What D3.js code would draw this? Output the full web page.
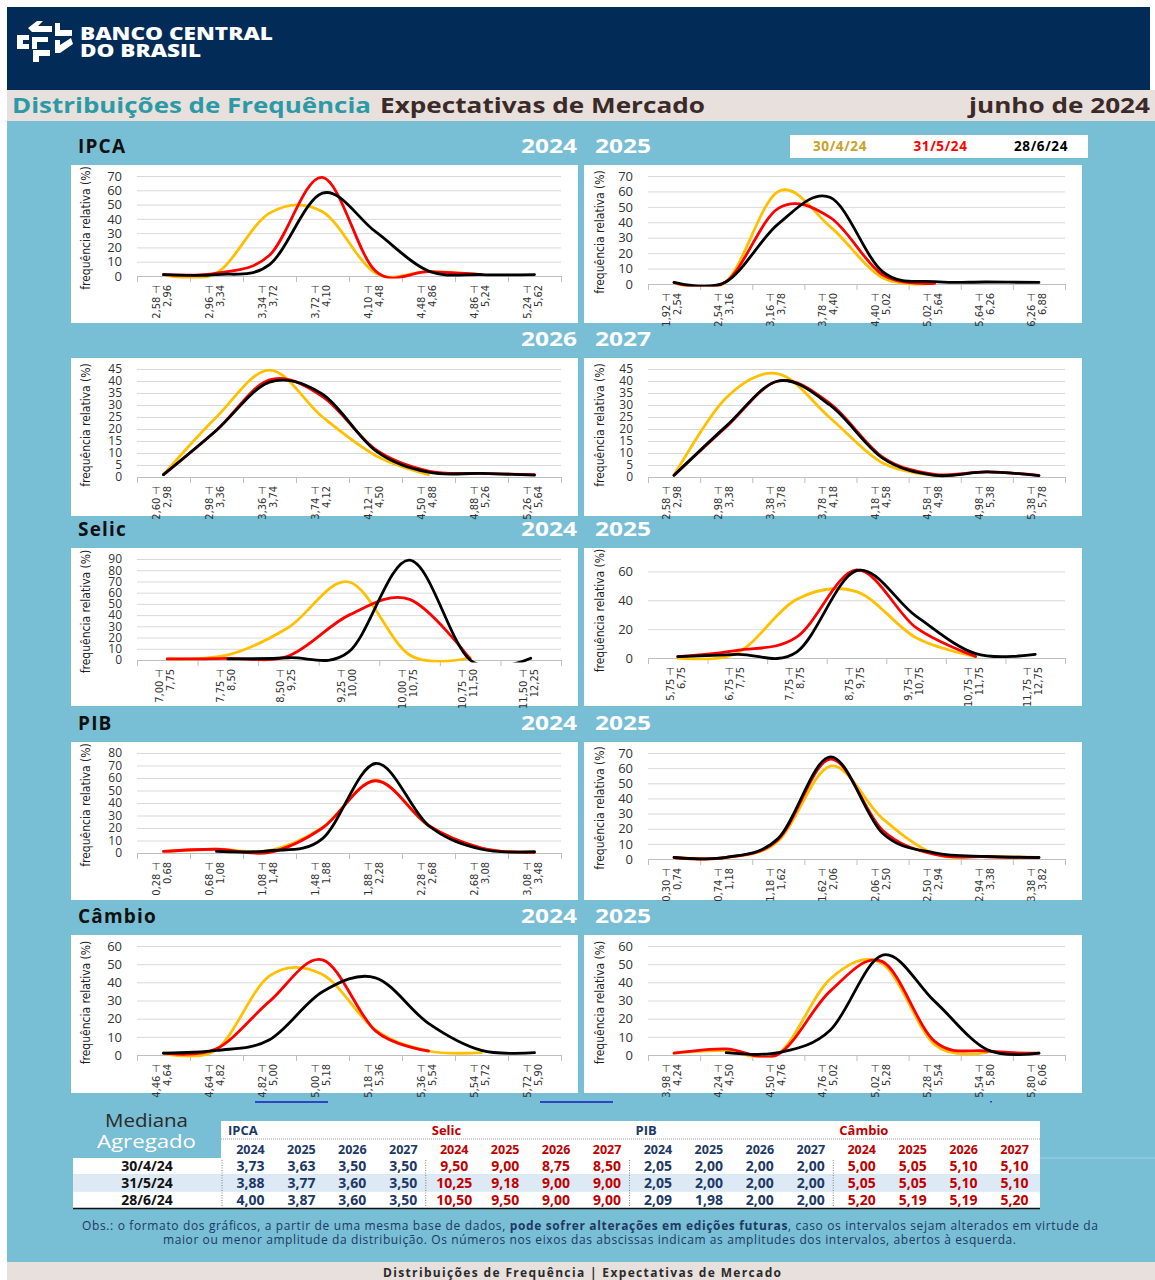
<!DOCTYPE html>
<html>
<head>
<meta charset="utf-8">
<script src="https://cdnjs.cloudflare.com/ajax/libs/d3/7.8.5/d3.min.js"></script>
<style>
  body { margin: 0; background: #fff; }
  svg text { font-family: "Open Sans", "Noto Sans", sans-serif; }
  .narrow { font-family: "Liberation Sans Narrow", "DejaVu Sans Condensed", sans-serif !important; }
</style>
</head>
<body>
<div id="page"></div>
<script>
// survey dates and line colours
var seriesDates = ["30/4/24", "31/5/24", "28/6/24"];
var seriesColors = ["#ffc000", "#ff0000", "#000000"];
var legendColors = ["#c9a227", "#ff0000", "#000000"];

// tick labels
var ticks70 = [0, 10, 20, 30, 40, 50, 60, 70];
var ticks45 = [0, 5, 10, 15, 20, 25, 30, 35, 40, 45];
var ticks90 = [0, 10, 20, 30, 40, 50, 60, 70, 80, 90];
var ticks80 = [0, 10, 20, 30, 40, 50, 60, 70, 80];
var ticks60by20 = [0, 20, 40, 60];
var ticks60 = [0, 10, 20, 30, 40, 50, 60];

// IPCA
var ipca24Edges = ["2,58", "2,96", "3,34", "3,72", "4,10", "4,48", "4,86", "5,24", "5,62"];
var ipca24Apr = [1, 2, 44, 45, 2, 3, 1, null];
var ipca24May = [1, 2, 14.5, 69, 3.5, 3, 1, null];
var ipca24Jun = [1, 1, 8, 58, 31, 3.5, 1, 1];

var ipca25Edges = ["1,92", "2,54", "3,16", "3,78", "4,40", "5,02", "5,64", "6,26", "6,88"];
var ipca25Apr = [1, 1.5, 60, 37, 4, 0.5, null, null];
var ipca25May = [1, 1.5, 49, 43, 6, 0.5, null, null];
var ipca25Jun = [1, 1.5, 39, 56, 8, 1.5, 1.3, 1];

var ipca26Edges = ["2,60", "2,98", "3,36", "3,74", "4,12", "4,50", "4,88", "5,26", "5,64"];
var ipca26Apr = [1, 25, 44.5, 25, 9, 1, null, null];
var ipca26May = [1, 19.5, 40.5, 33.5, 11.5, 2.5, 1.5, 1];
var ipca26Jun = [1, 19.5, 39.5, 34.5, 11, 2, 1.5, 0.8];

var ipca27Edges = ["2,58", "2,98", "3,38", "3,78", "4,18", "4,58", "4,98", "5,38", "5,78"];
var ipca27Apr = [0.7, 33, 43, 24.5, 5.8, 0.7, null, null];
var ipca27May = [0.7, 20.8, 40, 30.5, 8.3, 1.1, 2.1, 0.7];
var ipca27Jun = [0.7, 21.2, 40, 29.8, 7.9, 0.7, 2.1, 0.6];

// Selic
var selic24Edges = ["7,00", "7,75", "8,50", "9,25", "10,00", "10,75", "11,50", "12,25"];
var selic24Apr = [1, 4.5, 29, 69.5, 4.5, 2, null];
var selic24May = [1, 1.5, 3.6, 40, 54, 1, null];
var selic24Jun = [null, 1, 2, 7.4, 89, 0, 1.5];

var selic25Edges = ["5,75", "6,75", "7,75", "8,75", "9,75", "10,75", "11,75", "12,75"];
var selic25Apr = [0, 3.5, 40.7, 46, 14, 1, null];
var selic25May = [1, 5.3, 14.6, 61, 21, 1, null];
var selic25Jun = [1, 2.5, 4.3, 60.5, 29, 3, 2.5];

// PIB
var pib24Edges = ["0,28", "0,68", "1,08", "1,48", "1,88", "2,28", "2,68", "3,08", "3,48"];
var pib24Apr = [1.3, 3, 2, 20.5, 58, 22, 4, 0.5];
var pib24May = [1.3, 3, 0.5, 20, 57.8, 22, 4, 0.5];
var pib24Jun = [null, 1.3, 1.8, 11.5, 71.6, 22, 3, 1];

var pib25Edges = ["0,30", "0,74", "1,18", "1,62", "2,06", "2,50", "2,94", "3,38", "3,82"];
var pib25Apr = [1, 1, 12, 61.4, 26.7, 3.3, 1.7, 1];
var pib25May = [1, 1, 13, 66, 19, 3, 1.5, 1];
var pib25Jun = [1, 1, 13.7, 67.5, 17, 4, 1.7, 1];

// Câmbio
var cambio24Edges = ["4,46", "4,64", "4,82", "5,00", "5,18", "5,36", "5,54", "5,72", "5,90"];
var cambio24Apr = [1, 3, 43.5, 44.3, 13.8, 2.2, 1.3, null];
var cambio24May = [1, 3.4, 29.5, 52.4, 13.3, 2.2, null, null];
var cambio24Jun = [1, 2.5, 8.4, 34.8, 42.5, 17.4, 2.5, 1.3];

var cambio25Edges = ["3,98", "4,24", "4,50", "4,76", "5,02", "5,28", "5,54", "5,80", "6,06"];
var cambio25Apr = [1, 2.5, 0.7, 42, 50.2, 5.7, 1.4, null];
var cambio25May = [1, 3.4, 0.4, 35.3, 51.4, 7.5, 2.2, 1];
var cambio25Jun = [null, 1.3, 1.3, 13.8, 55, 29.5, 3, 1];

// median table
var groupNames = ["IPCA", "Selic", "PIB", "Câmbio"];
var medianYears = ["2024", "2025", "2026", "2027"];
var ipcaMedian = [[3.73, 3.63, 3.50, 3.50], [3.88, 3.77, 3.60, 3.50], [4.00, 3.87, 3.60, 3.50]];
var selicMedian = [[9.50, 9.00, 8.75, 8.50], [10.25, 9.18, 9.00, 9.00], [10.50, 9.50, 9.00, 9.00]];
var pibMedian = [[2.05, 2.00, 2.00, 2.00], [2.05, 2.00, 2.00, 2.00], [2.09, 1.98, 2.00, 2.00]];
var cambioMedian = [[5.00, 5.05, 5.10, 5.10], [5.05, 5.05, 5.10, 5.10], [5.20, 5.19, 5.19, 5.20]];

var navy = "#203864", darkRed = "#c00000";

var svg = d3.select("#page").append("svg")
  .attr("width", 1155)
  .attr("height", 1280);

// page blocks
svg.append("rect").attr("x", 7).attr("y", 7).attr("width", 1143).attr("height", 83).attr("fill", "#022c57");
svg.append("rect").attr("x", 7).attr("y", 90).attr("width", 1148).attr("height", 31).attr("fill", "#e8e0dd");
svg.append("rect").attr("x", 7).attr("y", 121).attr("width", 1148).attr("height", 1141).attr("fill", "#78bed5");
svg.append("rect").attr("x", 7).attr("y", 1262).attr("width", 1148).attr("height", 18).attr("fill", "#e8e0dd");

// logo
var logo = svg.append("g").attr("fill", "#fff");
[
  "M37,21 L43,21 L38,26 L52,26 L52,32 L32,32 L28,28 Z",
  "M55,23 L60,23 L60,30 L72,30 L72,36 L55,36 Z",
  "M17,35 L29,35 L29,40 L23,40 L23,44 L29,44 L29,49 L17,49 Z",
  "M32,37 L48,37 L48,42 L37,42 L37,49 L32,49 Z",
  "M55,40 L60,40 L60,45 L71,38 L73,44 L60,53 L55,53 Z",
  "M33,50 L50,50 L50,56 L39,56 L39,62 L33,62 Z"
].forEach(function(d) { logo.append("path").attr("d", d); });
svg.append("text").attr("x", 80).attr("y", 40).attr("fill", "#fff")
  .attr("font-size", 17).attr("font-weight", 800).attr("textLength", 193).attr("lengthAdjust", "spacingAndGlyphs")
  .text("BANCO CENTRAL");
svg.append("text").attr("x", 80).attr("y", 57).attr("fill", "#fff")
  .attr("font-size", 17).attr("font-weight", 800).attr("textLength", 121).attr("lengthAdjust", "spacingAndGlyphs")
  .text("DO BRASIL");

// title bar
svg.append("text").attr("x", 12).attr("y", 113).attr("font-size", 21).attr("font-weight", 700)
  .attr("fill", "#2b9aa6").attr("textLength", 359).attr("lengthAdjust", "spacingAndGlyphs")
  .text("Distribuições de Frequência");
svg.append("text").attr("x", 380).attr("y", 113).attr("font-size", 21).attr("font-weight", 700)
  .attr("fill", "#3b2a28").attr("textLength", 325).attr("lengthAdjust", "spacingAndGlyphs")
  .text("Expectativas de Mercado");
svg.append("text").attr("x", 1150).attr("y", 113).attr("font-size", 21).attr("font-weight", 700)
  .attr("fill", "#3b2a28").attr("text-anchor", "end").attr("textLength", 181).attr("lengthAdjust", "spacingAndGlyphs")
  .text("junho de 2024");

// legend
svg.append("rect").attr("x", 790).attr("y", 135).attr("width", 298).attr("height", 23).attr("fill", "#fff");
var legendX = d3.scalePoint().domain(seriesDates).range([840, 1041]);
svg.selectAll(".legend").data(seriesDates).join("text")
  .attr("x", function(d) { return legendX(d); })
  .attr("y", 151)
  .attr("text-anchor", "middle")
  .attr("font-size", 13.5).attr("font-weight", 700).attr("letter-spacing", 0.6)
  .attr("fill", function(d, i) { return legendColors[i]; })
  .text(function(d) { return d; });

// row headings
var rowTops = [165, 358, 548, 742, 935];
var rowTitles = ["IPCA", "", "Selic", "PIB", "Câmbio"];
var rowYears = [["2024", "2025"], ["2026", "2027"], ["2024", "2025"], ["2024", "2025"], ["2024", "2025"]];

rowTops.forEach(function(top, r) {
  svg.append("text").attr("x", 78).attr("y", top - 12).attr("font-size", 19).attr("font-weight", 700)
    .attr("fill", "#111").attr("letter-spacing", 1.2).text(rowTitles[r]);
  svg.append("text").attr("x", 521).attr("y", top - 12).attr("font-size", 19).attr("font-weight", 700)
    .attr("fill", "#fff").attr("textLength", 56).attr("lengthAdjust", "spacingAndGlyphs").text(rowYears[r][0]);
  svg.append("text").attr("x", 595).attr("y", top - 12).attr("font-size", 19).attr("font-weight", 700)
    .attr("fill", "#fff").attr("textLength", 56).attr("lengthAdjust", "spacingAndGlyphs").text(rowYears[r][1]);
});

var panels = [
  { row: 0, col: 0, edges: ipca24Edges, ticks: ticks70, yMax: 70, axisY: 111, series: [ipca24Apr, ipca24May, ipca24Jun] },
  { row: 0, col: 1, edges: ipca25Edges, ticks: ticks70, yMax: 70, axisY: 119, series: [ipca25Apr, ipca25May, ipca25Jun] },
  { row: 1, col: 0, edges: ipca26Edges, ticks: ticks45, yMax: 45, axisY: 119, series: [ipca26Apr, ipca26May, ipca26Jun] },
  { row: 1, col: 1, edges: ipca27Edges, ticks: ticks45, yMax: 45, axisY: 119, series: [ipca27Apr, ipca27May, ipca27Jun] },
  { row: 2, col: 0, edges: selic24Edges, ticks: ticks90, yMax: 90, axisY: 112, series: [selic24Apr, selic24May, selic24Jun] },
  { row: 2, col: 1, edges: selic25Edges, ticks: ticks60by20, yMax: 70, axisY: 110, series: [selic25Apr, selic25May, selic25Jun] },
  { row: 3, col: 0, edges: pib24Edges, ticks: ticks80, yMax: 80, axisY: 111, series: [pib24Apr, pib24May, pib24Jun] },
  { row: 3, col: 1, edges: pib25Edges, ticks: ticks70, yMax: 70, axisY: 117, series: [pib25Apr, pib25May, pib25Jun] },
  { row: 4, col: 0, edges: cambio24Edges, ticks: ticks60, yMax: 60, axisY: 120, series: [cambio24Apr, cambio24May, cambio24Jun] },
  { row: 4, col: 1, edges: cambio25Edges, ticks: ticks60, yMax: 60, axisY: 120, series: [cambio25Apr, cambio25May, cambio25Jun] }
];

panels.forEach(function(p, pi) {
  var px = p.col === 0 ? 71 : 584;
  var pw = p.col === 0 ? 507 : 498;
  var ph = 158;
  var g = svg.append("g").attr("transform", "translate(" + px + "," + rowTops[p.row] + ")");
  g.append("rect").attr("width", pw).attr("height", ph).attr("fill", "#fff");

  var left = p.col === 0 ? 66 : 64, right = pw - 17, top = 11;
  var n = p.edges.length - 1;
  var x = d3.scaleLinear().domain([0, n]).range([left, right]);
  var lastTick = p.ticks[p.ticks.length - 1];
  var y = d3.scaleLinear().domain([0, p.yMax]).range([p.axisY, lastTick === p.yMax ? top : top - 2]);

  // gridlines
  g.append("g").attr("transform", "translate(" + left + ",0)")
    .call(d3.axisLeft(y).tickValues(p.ticks.slice(1)).tickSize(-(right - left)).tickFormat(""))
    .call(function(s) { s.select(".domain").remove(); })
    .selectAll("line").attr("stroke", "#d9d9d9");

  // y labels
  var ya = g.append("g").attr("transform", "translate(" + left + ",0)")
    .call(d3.axisLeft(y).tickValues(p.ticks).tickSize(0).tickPadding(15));
  ya.select(".domain").remove();
  ya.selectAll("text").attr("font-size", p.ticks.length > 8 ? 12 : 13).attr("fill", "#333")
    .attr("font-family", "'Open Sans', sans-serif");

  // y title
  g.append("text").attr("class", "narrow")
    .attr("transform", "translate(" + (p.col === 0 ? 19 : 20) + "," + ((top + p.axisY) / 2 + 2) + ") rotate(-90)")
    .attr("text-anchor", "middle").attr("font-size", 12).attr("fill", "#222")
    .text("frequência relativa (%)");

  // x axis with ticks on bin edges
  var xa = g.append("g").attr("transform", "translate(0," + p.axisY + ")")
    .call(d3.axisBottom(x).tickValues(d3.range(n + 1)).tickSize(6).tickSizeOuter(0).tickFormat(""));
  xa.select(".domain").attr("stroke", "#bfbfbf");
  xa.selectAll("line").attr("stroke", "#bfbfbf");

  // x labels, two lines rotated
  var labels = g.selectAll(".xl").data(d3.range(n)).join("text")
    .attr("class", "narrow")
    .attr("transform", function(i) { return "translate(" + x(i + 0.5) + "," + (p.axisY + 9) + ") rotate(-90)"; })
    .attr("text-anchor", "end").attr("font-size", 11).attr("fill", "#333");
  labels.append("tspan").attr("x", 0).attr("y", -4).text(function(i) { return p.edges[i] + " ⊣"; });
  labels.append("tspan").attr("x", 0).attr("y", 7).text(function(i) { return p.edges[i + 1]; });

  // clip to plot area like a spreadsheet chart
  var clipId = "clip" + pi;
  g.append("clipPath").attr("id", clipId).append("rect")
    .attr("x", left - 4).attr("y", 0).attr("width", right - left + 8).attr("height", p.axisY + 2.5);

  var line = d3.line()
    .defined(function(d) { return d != null; })
    .x(function(d, i) { return x(i + 0.5); })
    .y(function(d) { return y(d); })
    .curve(d3.curveCatmullRom.alpha(0));

  g.append("g").attr("clip-path", "url(#" + clipId + ")")
    .selectAll("path").data(p.series).join("path")
    .attr("d", line)
    .attr("fill", "none")
    .attr("stroke", function(d, i) { return seriesColors[i]; })
    .attr("stroke-width", 2.8)
    .attr("stroke-linejoin", "round")
    .attr("stroke-linecap", "round");
});

// stray blue marks above the table
svg.append("line").attr("x1", 255).attr("x2", 328).attr("y1", 1102).attr("y2", 1102).attr("stroke", "#2a48c4").attr("stroke-width", 2);
svg.append("line").attr("x1", 540).attr("x2", 613).attr("y1", 1102).attr("y2", 1102).attr("stroke", "#2a48c4").attr("stroke-width", 2);
svg.append("rect").attr("x", 990).attr("y", 1101).attr("width", 2).attr("height", 1.5).attr("fill", "#2a48c4");

// median table
svg.append("text").attr("x", 105).attr("y", 1127)
  .attr("font-size", 18).attr("fill", "#2b2b2b").attr("textLength", 83).attr("lengthAdjust", "spacingAndGlyphs")
  .text("Mediana");
svg.append("text").attr("x", 97).attr("y", 1148)
  .attr("font-size", 18).attr("fill", "#fff").attr("textLength", 99).attr("lengthAdjust", "spacingAndGlyphs")
  .text("Agregado");

var medianGroups = [ipcaMedian, selicMedian, pibMedian, cambioMedian];
var groupColors = [navy, darkRed, navy, darkRed];
var gx = d3.scaleBand().domain(d3.range(4)).range([225, 1040]);
var cx = d3.scaleBand().domain(d3.range(4)).range([0, gx.bandwidth()]);
var ry = d3.scaleBand().domain(d3.range(3)).range([1158, 1208]);
var fmt = function(v) { return d3.format(".2f")(v).replace(".", ","); };

svg.append("rect").attr("x", 221).attr("y", 1121).attr("width", 819).attr("height", 37).attr("fill", "#fff");
svg.append("line").attr("x1", 221).attr("x2", 1040).attr("y1", 1139).attr("y2", 1139)
  .attr("stroke", "#9a9a9a").attr("stroke-dasharray", "1,1");
svg.append("line").attr("x1", 1040).attr("x2", 1155).attr("y1", 1158).attr("y2", 1158).attr("stroke", "#9fd0e0");

svg.selectAll(".rowbg").data(seriesDates).join("rect")
  .attr("x", 73).attr("y", function(d, i) { return ry(i); })
  .attr("width", 967).attr("height", ry.bandwidth())
  .attr("fill", function(d, i) { return i === 1 ? "#dde9f4" : "#fff"; });

svg.selectAll(".dates").data(seriesDates).join("text")
  .attr("x", 147).attr("y", function(d, i) { return ry(i) + ry.bandwidth() / 2 + 5; })
  .attr("text-anchor", "middle").attr("font-size", 14).attr("font-weight", 700).attr("fill", "#111")
  .text(function(d) { return d; });

groupNames.forEach(function(name, gi) {
  svg.append("text").attr("x", gx(gi) + 3).attr("y", 1135)
    .attr("font-size", 13).attr("font-weight", 700).attr("fill", groupColors[gi])
    .text(name);
  svg.append("line").attr("x1", gx(gi) - 3).attr("x2", gx(gi) - 3).attr("y1", 1160).attr("y2", 1207)
    .attr("stroke", "#808080").attr("stroke-dasharray", "1,1.5");
  medianYears.forEach(function(yr, k) {
    var colX = gx(gi) + cx(k) + cx.bandwidth() / 2;
    svg.append("text").attr("x", colX).attr("y", 1154).attr("text-anchor", "middle")
      .attr("font-size", 12.5).attr("font-weight", 700).attr("fill", groupColors[gi]).text(yr);
    medianGroups[gi].forEach(function(row, ri) {
      svg.append("text").attr("x", colX).attr("y", ry(ri) + ry.bandwidth() / 2 + 5)
        .attr("text-anchor", "middle").attr("font-size", 14).attr("font-weight", 700)
        .attr("fill", groupColors[gi]).text(fmt(row[k]));
    });
  });
});
svg.append("line").attr("x1", 73).attr("x2", 1040).attr("y1", 1208.5).attr("y2", 1208.5)
  .attr("stroke", "#111").attr("stroke-width", 1.5);

// note
var obs1 = svg.append("text").attr("x", 82).attr("y", 1230).attr("font-size", 12).attr("fill", navy)
  .attr("textLength", 1016);
obs1.append("tspan").text("Obs.: o formato dos gráficos, a partir de uma mesma base de dados, ");
obs1.append("tspan").attr("font-weight", 700).text("pode sofrer alterações em edições futuras");
obs1.append("tspan").text(", caso os intervalos sejam alterados em virtude da");
svg.append("text").attr("x", 163).attr("y", 1244).attr("font-size", 12).attr("fill", navy)
  .attr("textLength", 853)
  .text("maior ou menor amplitude da distribuição. Os números nos eixos das abscissas indicam as amplitudes dos intervalos, abertos à esquerda.");

// footer
svg.append("text").attr("x", 582).attr("y", 1277).attr("text-anchor", "middle")
  .attr("font-size", 12).attr("font-weight", 700).attr("fill", "#2b2b2b").attr("textLength", 398)
  .text("Distribuições de Frequência | Expectativas de Mercado");
</script>
</body>
</html>
